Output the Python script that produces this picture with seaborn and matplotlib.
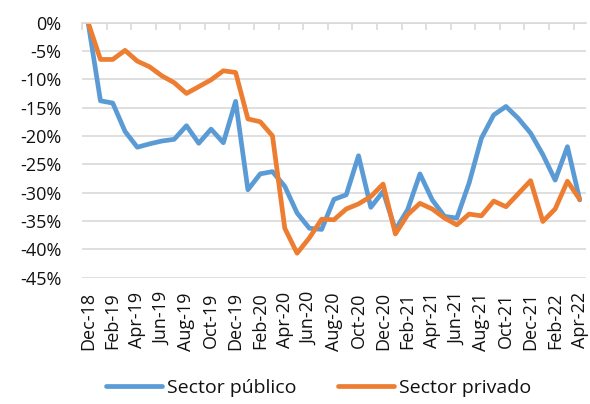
import matplotlib
matplotlib.use("Agg")
import matplotlib.pyplot as plt
from matplotlib.ticker import FixedLocator, FuncFormatter
import pandas as pd
import seaborn as sns

sns.set_style("white")
plt.rcParams["font.family"] = ["Open Sans", "DejaVu Sans"]

months = pd.date_range("2018-12-01", periods=41, freq="MS").strftime("%b-%y").tolist()

publico = [0.0, -13.8, -14.2, -19.2, -22.0, -21.4, -20.9, -20.6, -18.2, -21.3,
           -18.8, -21.2, -13.9, -29.5, -26.7, -26.3, -28.9, -33.6, -36.3, -36.5,
           -31.2, -30.4, -23.5, -32.6, -29.8, -36.6, -33.0, -26.7, -31.3, -34.2,
           -34.5, -28.3, -20.4, -16.3, -14.8, -16.9, -19.5, -23.3, -27.8, -21.9,
           -31.3]
privado = [0.0, -6.5, -6.5, -4.9, -6.8, -7.8, -9.4, -10.6, -12.5, -11.3,
           -10.1, -8.5, -8.8, -17.0, -17.5, -20.0, -36.3, -40.7, -38.0, -34.7,
           -34.8, -32.9, -32.0, -30.7, -28.5, -37.3, -33.9, -31.9, -32.9, -34.5,
           -35.7, -33.8, -34.1, -31.5, -32.5, -30.2, -27.9, -35.1, -32.9, -28.0,
           -31.2]

series_names = ["Sector público", "Sector privado"]
colors = ["#5B9BD5", "#ED7D31"]

df = pd.concat([
    pd.DataFrame({"idx": range(len(months)), "valor": publico, "serie": series_names[0]}),
    pd.DataFrame({"idx": range(len(months)), "valor": privado, "serie": series_names[1]}),
])

fig = plt.figure(figsize=(5.90, 4.04), dpi=100)
ax = fig.add_axes([0.139, 0.313, 0.854, 0.631])

sns.lineplot(data=df, x="idx", y="valor", hue="serie", palette=colors,
             linewidth=3.4, ax=ax, legend=True)

ax.set_xlim(-0.5, len(months) - 0.5)
ax.set_ylim(-45, 0)
ax.yaxis.set_major_locator(FixedLocator(range(-45, 1, 5)))
ax.yaxis.set_major_formatter(FuncFormatter(lambda v, p: f"{int(round(v))}%"))
ax.grid(True, axis="y", color="#D9D9D9", linewidth=1.2)
ax.set_axisbelow(True)

for s in ["left", "right", "bottom"]:
    ax.spines[s].set_visible(False)
ax.spines["top"].set_color("#D9D9D9")
ax.spines["top"].set_linewidth(1.2)

ax.set_xticks(range(0, len(months), 2))
ax.set_xticklabels(months[::2], rotation=90, fontsize=13, color="#111111")
ax.set_xticks([i - 0.5 for i in range(0, len(months) + 1, 2)], minor=True)
ax.tick_params(axis="x", which="major", length=0, pad=10.5)
ax.tick_params(axis="x", which="minor", top=True, bottom=False, direction="in",
               length=5, width=1.2, color="#D9D9D9")
ax.tick_params(axis="y", length=0, pad=15, labelsize=13, colors="#111111")
ax.set_xlabel("")
ax.set_ylabel("")

handles, labels = ax.get_legend_handles_labels()
ax.get_legend().remove()
fig.legend(handles, labels, loc="center", bbox_to_anchor=(0.54, 0.04), ncol=2,
           frameon=False, fontsize=14, handlelength=2.9, handletextpad=0.25,
           columnspacing=2.1, labelcolor="#111111")

fig.savefig("out.png", dpi=100)
plt.close(fig)
